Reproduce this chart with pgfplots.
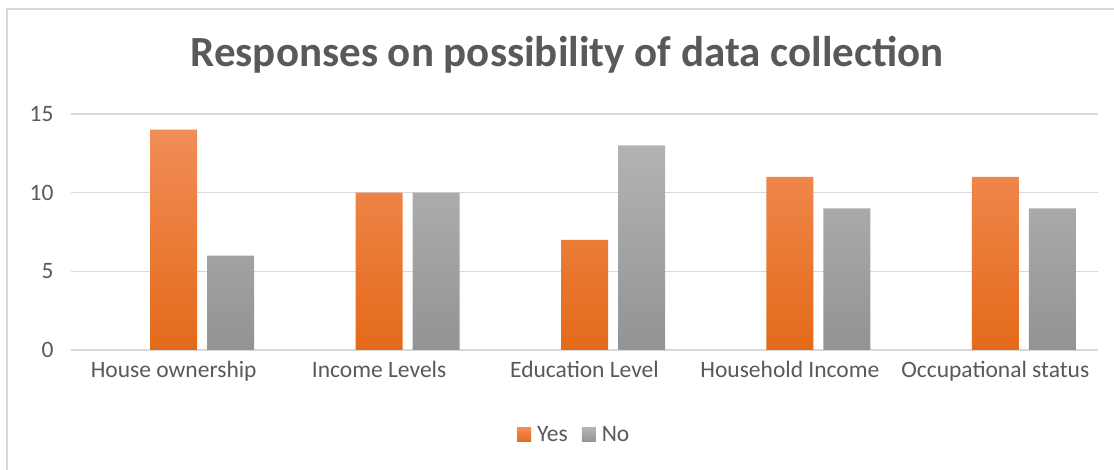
\documentclass[border=0pt]{standalone}
\usepackage{pgfplots}
\pgfplotsset{compat=1.18}
\usepackage{fontspec}
\setmainfont{Carlito}
\definecolor{txt}{HTML}{595959}
\definecolor{gridc}{HTML}{D9D9D9}
\definecolor{oTop}{HTML}{F18D58}
\definecolor{oBot}{HTML}{E46A19}
\definecolor{gTop}{HTML}{B3B3B3}
\definecolor{gBot}{HTML}{939393}
\begin{document}
\begin{tikzpicture}
\path[use as bounding box] (0pt,0pt) rectangle (1114pt,470pt);
\draw[gridc, line width=1.2pt] (7pt,-10pt) -- (7pt,461pt) -- (1130pt,461pt);
\node[font=\fontsize{43}{48}\selectfont\bfseries, text=txt] at (567pt,415pt) {Responses on possibility of data collection};
\begin{axis}[
  at={(71pt,120pt)}, anchor=south west,
  width=1027pt, height=236pt, scale only axis,
  xmin=-0.5, xmax=4.5, ymin=0, ymax=15,
  axis line style={draw=none},
  ytick={0,5,10,15},
  xtick={0,1,2,3,4},
  xticklabels={House ownership, Income Levels, Education Level, Household Income, Occupational status},
  major tick length=0pt,
  ymajorgrids, xmajorgrids=false, grid style={draw=gridc, line width=1.6pt},
  ticklabel style={font=\fontsize{23.5}{28}\selectfont, text=txt},
  /pgf/number format/assume math mode=true,
  yticklabel style={xshift=-14pt},
  xticklabel style={yshift=-8pt},
  clip=false,
  legend style={at={(0.49,-0.36)}, anchor=center, draw=none, legend columns=2,
    font=\fontsize{23.5}{28}\selectfont, text=txt,
    /tikz/every even column/.append style={column sep=12pt}},
  legend image code/.code={\fill[#1] (0pt,-7pt) rectangle (14pt,7pt); \path (18pt,0pt);},
]
\addplot[ybar, bar width=47pt, bar shift=0pt, draw=none, top color=oTop, bottom color=oBot] coordinates {(0,14) (1,10) (2,7) (3,11) (4,11)};
\addplot[ybar, bar width=47pt, bar shift=57pt, draw=none, top color=gTop, bottom color=gBot] coordinates {(0,6) (1,10) (2,13) (3,9) (4,9)};
\legend{Yes, No}
\end{axis}
\end{tikzpicture}
\end{document}
